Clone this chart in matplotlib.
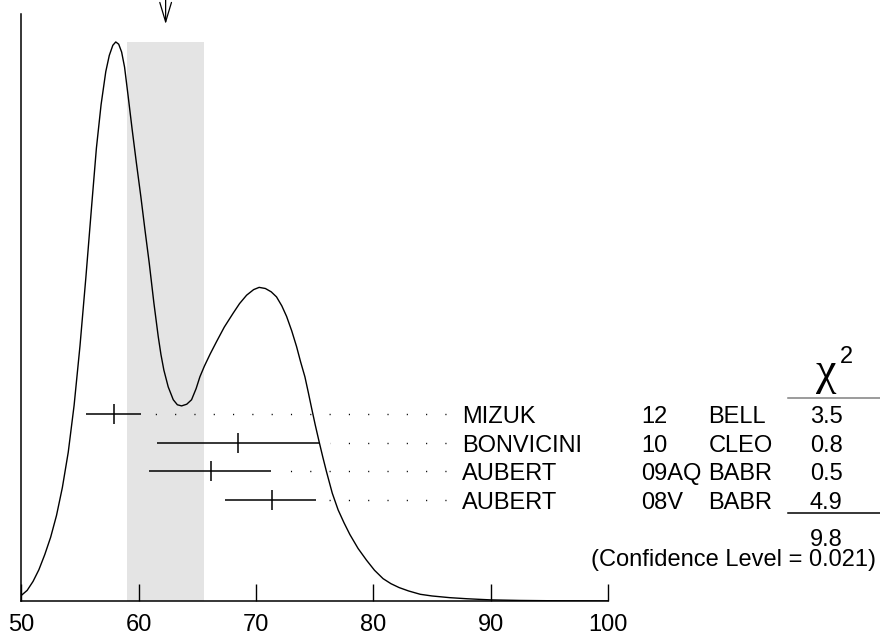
import matplotlib
matplotlib.use('Agg')
import matplotlib.pyplot as plt
import matplotlib.transforms as mtransforms
from matplotlib.lines import Line2D

plt.rcParams['font.family'] = ['Liberation Sans', 'DejaVu Sans']

# measurements
names = ['MIZUK', 'BONVICINI', 'AUBERT', 'AUBERT']
docs = ['12', '10', '09AQ', '08V']
tecn = ['BELL', 'CLEO', 'BABR', 'BABR']
chi2 = ['3.5', '0.8', '0.5', '4.9']
values = [57.9, 68.5, 66.2, 71.4]
err_lo = [2.35, 6.9, 5.35, 4.05]
err_hi = [2.3, 6.85, 5.1, 3.75]
chi2_total = '9.8'
conf_level = '(Confidence Level = 0.021)'

# weighted average with scaled error (shaded band)
avg = 62.3
avg_err = 3.3

# ideogram curve (normalised to peak = 1)
curve_x = [50.0, 50.5, 51.0, 51.5, 52.0, 52.5, 53.0, 53.5, 54.0, 54.5,
           55.0, 55.5, 56.0, 56.4, 56.8, 57.2, 57.5, 57.8, 58.05, 58.3,
           58.55, 58.8, 59.1, 59.45, 59.8, 60.19, 60.55, 60.9, 61.3, 61.67,
           61.9, 62.15, 62.52, 62.95, 63.3, 63.66, 64.1, 64.51, 64.9, 65.22,
           65.6, 66.1, 66.64, 67.3, 68.06, 68.6, 69.2, 69.8, 70.27, 70.8,
           71.3, 71.75, 72.2, 72.61, 73.05, 73.46, 73.8, 74.17, 74.45, 74.74,
           75.05, 75.38, 75.7, 76.0, 76.5, 77.0, 77.5, 78.0, 78.7, 79.42,
           80.1, 80.83, 81.5, 82.2, 83.0, 84.0, 85.0, 86.5, 88.0, 90.0,
           92.5, 95.0, 100.0]
curve_y = [0.010, 0.019, 0.035, 0.056, 0.083, 0.114, 0.153, 0.203, 0.266, 0.350,
           0.456, 0.578, 0.708, 0.810, 0.888, 0.947, 0.976, 0.994, 1.000, 0.996,
           0.982, 0.955, 0.904, 0.843, 0.785, 0.723, 0.662, 0.605, 0.533, 0.473,
           0.441, 0.413, 0.383, 0.360, 0.351, 0.349, 0.352, 0.360, 0.380, 0.401,
           0.420, 0.442, 0.464, 0.490, 0.515, 0.532, 0.547, 0.557, 0.561, 0.559,
           0.553, 0.544, 0.528, 0.509, 0.483, 0.455, 0.428, 0.401, 0.374, 0.345,
           0.315, 0.285, 0.257, 0.232, 0.193, 0.163, 0.140, 0.119, 0.094, 0.073,
           0.055, 0.040, 0.031, 0.024, 0.018, 0.012, 0.009, 0.006, 0.004, 0.002,
           0.001, 0.0005, 0.0001]

W, H = 880, 636
fig = plt.figure(figsize=(W / 100, H / 100), dpi=100)
ax = fig.add_axes([21.3 / W, (H - 601) / H, (608 - 21.3) / W, (601 - 14) / H])

ax.set_xlim(50, 100)
ax.set_ylim(0, 1.050)

ax.fill_between([avg - avg_err, avg + avg_err], 0, max(curve_y),
                color='#e4e4e4', lw=0, zorder=0)
ax.plot(curve_x, curve_y, color='black', lw=1.0, zorder=3)

ax.annotate('', xy=(avg, 1.032), xytext=(avg, 1.076), annotation_clip=False,
            arrowprops=dict(arrowstyle='->,head_length=1.4,head_width=0.42',
                            lw=0.9, color='black', mutation_scale=10,
                            shrinkA=0, shrinkB=0))

ax.spines['top'].set_visible(False)
ax.spines['right'].set_visible(False)
ax.spines['left'].set_linewidth(1.1)
ax.spines['bottom'].set_linewidth(1.1)
ax.set_yticks([])
ax.set_xticks([50, 60, 70, 80, 90, 100])
ax.tick_params(axis='x', direction='in', length=12.2, width=1.0,
               labelsize=17, pad=9.5)

row0 = 0.3345
drow = 0.0512
dot_end = 86.23
trans = mtransforms.blended_transform_factory(fig.transFigure, ax.transData)
text_trans = mtransforms.offset_copy(trans, fig=fig, y=-9, units='dots')

for i in range(len(values)):
    y = row0 - i * drow
    ax.errorbar(values[i], y, xerr=[[err_lo[i]], [err_hi[i]]], fmt='|',
                ms=15, mew=1.1, elinewidth=1.1, capsize=0, color='black',
                zorder=4)
    ax.plot([dot_end, values[i] + err_hi[i] + 1.0], [y, y], color='black',
            lw=1.0, linestyle=(0, (0.8, 13.1)), dash_capstyle='butt', zorder=4)
    ax.text(461.7 / W, y, names[i], transform=text_trans, fontsize=17,
            ha='left', va='baseline')
    ax.text(641 / W, y, docs[i], transform=text_trans, fontsize=17,
            ha='left', va='baseline')
    ax.text(708.3 / W, y, tecn[i], transform=text_trans, fontsize=17,
            ha='left', va='baseline')
    ax.text(826 / W, y, chi2[i], transform=text_trans, fontsize=17,
            ha='center', va='baseline')

# chi2 header and totals
fig.text(826.5 / W, 1 - 384 / H, 'χ', fontsize=33, family='Liberation Serif',
         ha='center', va='baseline')
fig.text(846 / W, 1 - 363.3 / H, '2', fontsize=17, ha='center', va='baseline')
fig.add_artist(Line2D([787.7 / W, 1.0], [1 - 398.3 / H] * 2, color='#808080',
                      lw=1.1))
fig.add_artist(Line2D([787.7 / W, 1.0], [1 - 513.3 / H] * 2, color='black',
                      lw=1.1))
fig.text(826 / W, 1 - 545.5 / H, chi2_total, fontsize=17, ha='center',
         va='baseline')
fig.text(876 / W, 1 - 566 / H, conf_level, fontsize=17, ha='right',
         va='baseline')

fig.savefig('out.png', dpi=100)
